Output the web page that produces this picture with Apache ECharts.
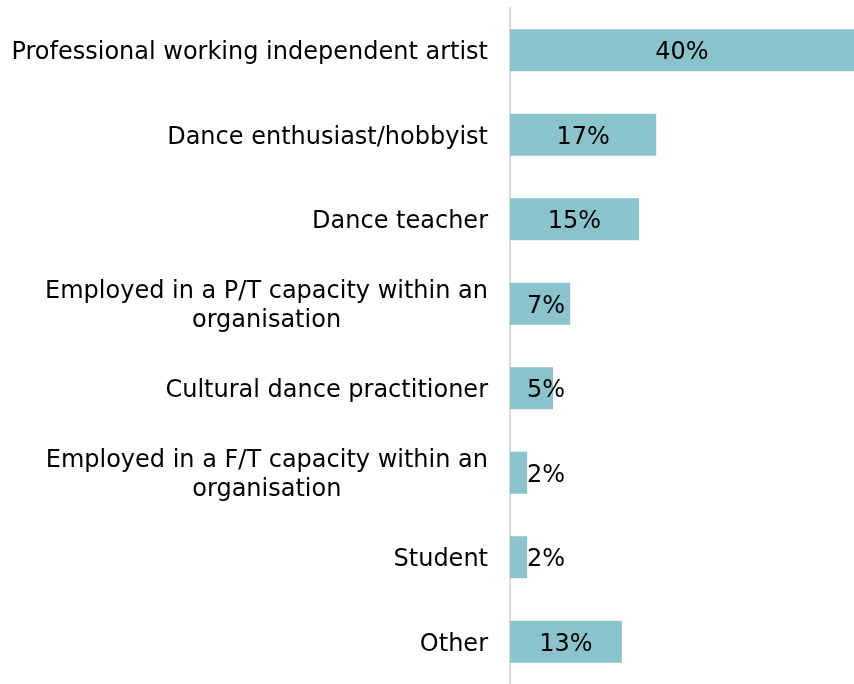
<!DOCTYPE html>
<html>
<head>
<meta charset="utf-8">
<script src="https://cdn.jsdelivr.net/npm/echarts@6/dist/echarts.min.js"></script>
<style>
  html, body { margin: 0; padding: 0; background: #fff; }
  #chart { width: 854px; height: 684px; }
</style>
</head>
<body>
<div id="chart"></div>
<script>
// Respondent roles (share of respondents, %)
const categories = [
  'Professional working independent artist',
  'Dance enthusiast/hobbyist',
  'Dance teacher',
  'Employed in a P/T capacity within an organisation',
  'Cultural dance practitioner',
  'Employed in a F/T capacity within an organisation',
  'Student',
  'Other'
];
const shares = [40, 17, 15, 7, 5, 2, 2, 13];

const FONT = 'DejaVu Sans';
const FONT_SIZE = 24;
const LINE_HEIGHT = 29;
const TEXT_DROP = 3; // nudges text so capitals sit centred on the bars
const BAR_COLOR = '#8bc3cc';
const MIN_LABEL_INSET = 17; // smallest gap between axis and a value label

// Long category names break onto two centred lines
function wrapCategory(name) {
  const maxChars = 40;
  if (name.length <= maxChars) return name;
  const words = name.split(' ');
  const lines = [];
  let cur = '';
  words.forEach(w => {
    const next = cur ? cur + ' ' + w : w;
    if (next.length > 36 && cur) { lines.push(cur); cur = w; }
    else cur = next;
  });
  if (cur) lines.push(cur);
  return lines.map(l => '{c|' + l + '}').join('\n');
}

const measureCtx = document.createElement('canvas').getContext('2d');
measureCtx.font = FONT_SIZE + 'px "' + FONT + '"';
const fmt = v => v + '%';

const chart = echarts.init(document.getElementById('chart'), null, { renderer: 'canvas' });

function buildOption(labelPlacements) {
  return {
    animation: false,
    backgroundColor: '#ffffff',
    grid: { left: 510, right: 0, top: 8, bottom: -4, containLabel: false },
    xAxis: {
      type: 'value', min: 0, max: 40, show: false
    },
    yAxis: {
      type: 'category',
      data: categories,
      inverse: true,
      axisLine: { show: true, lineStyle: { color: '#d9d9d9', width: 2 } },
      axisTick: { show: false },
      splitLine: { show: false },
      axisLabel: {
        margin: 22,
        color: '#000',
        fontFamily: FONT,
        fontSize: FONT_SIZE,
        lineHeight: LINE_HEIGHT,
        padding: [TEXT_DROP * 2, 0, 0, 0],
        formatter: wrapCategory,
        rich: {
          c: { align: 'center', color: '#000', fontFamily: FONT, fontSize: FONT_SIZE, lineHeight: LINE_HEIGHT }
        }
      }
    },
    series: [{
      type: 'bar',
      barWidth: 42,
      itemStyle: { color: BAR_COLOR },
      data: shares.map((v, i) => ({
        value: v,
        label: labelPlacements ? labelPlacements[i] : undefined
      })),
      label: {
        show: true,
        position: 'inside',
        offset: [0, TEXT_DROP],
        color: '#000',
        fontFamily: FONT,
        fontSize: FONT_SIZE,
        formatter: p => fmt(p.value)
      }
    }]
  };
}

chart.setOption(buildOption(null));

// Labels sit centred on the bar, but never closer to the axis than MIN_LABEL_INSET
const placements = shares.map((v, i) => {
  const x0 = chart.convertToPixel({ gridIndex: 0 }, [0, i])[0];
  const x1 = chart.convertToPixel({ gridIndex: 0 }, [v, i])[0];
  const w = measureCtx.measureText(fmt(v)).width;
  const centredLeft = (x0 + x1) / 2 - w / 2;
  if (centredLeft < x0 + MIN_LABEL_INSET) {
    return { position: [MIN_LABEL_INSET, '50%'], align: 'left', verticalAlign: 'middle' };
  }
  return { position: 'inside' };
});
chart.setOption(buildOption(placements));
</script>
</body>
</html>
